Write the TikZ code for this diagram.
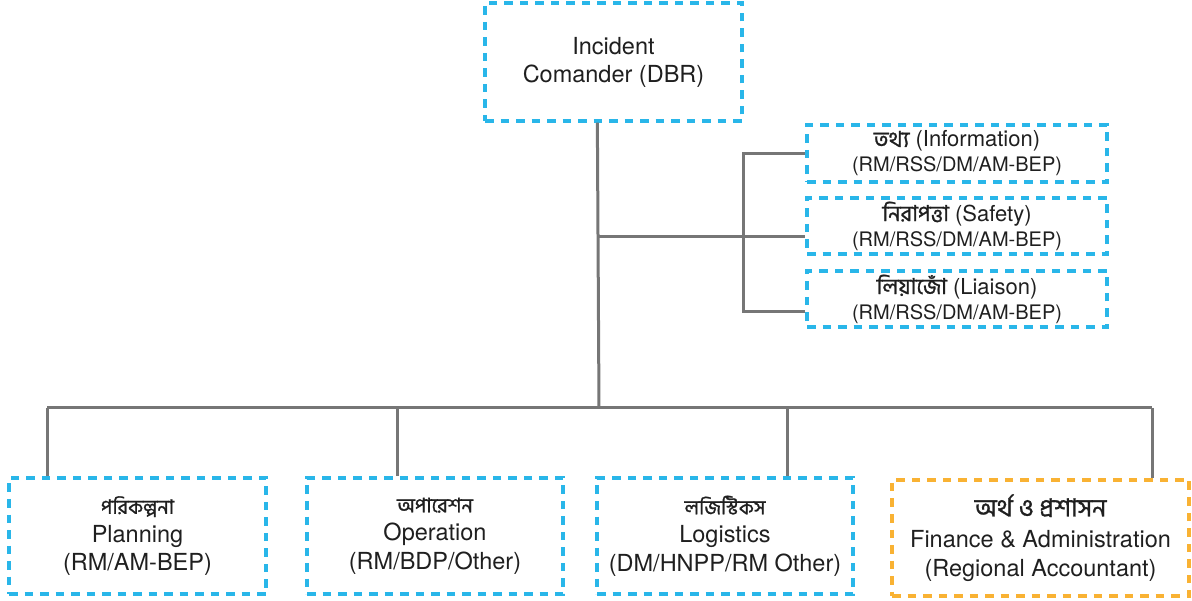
\documentclass[tikz,border=0pt]{standalone}
\usepackage{fontspec}
\usetikzlibrary{calc}
\setmainfont{TeX Gyre Heros}
\newfontfamily\bn[Script=Bengali,FakeBold=1.1]{Hind Siliguri}
\definecolor{boxblue}{HTML}{29B6E9}
\definecolor{boxorange}{HTML}{F9B233}
\definecolor{linkgray}{HTML}{767676}
\tikzset{
  frame/.style={draw=#1, line width=3.3pt, dash pattern=on 8.5pt off 7pt,
    inner sep=0pt, align=center, text=black!88},
  bluebox/.style={frame=boxblue},
  orangebox/.style={frame=boxorange},
  link/.style={draw=linkgray, line width=3pt},
  topfont/.style={font=\fontsize{23.5}{28}\selectfont},
  sidefont/.style={font=\fontsize{22}{25}\selectfont},
  lowfont/.style={font=\fontsize{23.5}{28.5}\selectfont},
}
\newcommand\sub[1]{{\fontsize{20}{25}\selectfont #1}}
\newcommand\bnl[1]{{\bn\fontsize{20}{28.5}\selectfont #1}}
\begin{document}
\begin{tikzpicture}[x=1pt,y=-1pt]
\useasboundingbox (0,0) rectangle (1192,601);

% commander
\node[bluebox, topfont, minimum width=257, minimum height=118] (ic) at (613.5,62)
  {Incident\\Comander (DBR)};

% staff boxes on the right
\node[bluebox, sidefont, minimum width=300, minimum height=57] (info) at (957,153.5)
  {{\bn তথ্য} (Information)\\\sub{(RM/RSS/DM/AM-BEP)}};
\node[bluebox, sidefont, minimum width=300, minimum height=56] (safety) at (957,226)
  {{\bn নিরাপত্তা} (Safety)\\\sub{(RM/RSS/DM/AM-BEP)}};
\node[bluebox, sidefont, minimum width=300, minimum height=56] (liaison) at (957,299)
  {{\bn লিয়াজোঁ} (Liaison)\\\sub{(RM/RSS/DM/AM-BEP)}};

% sections along the bottom
\node[bluebox, lowfont, minimum width=257, minimum height=116] (plan) at (137.5,536)
  {\bnl{পরিকল্পনা}\\Planning\\(RM/AM-BEP)};
\node[bluebox, lowfont, minimum width=256, minimum height=116] (oper) at (435,536)
  {\bnl{অপারেশন}\\Operation\\(RM/BDP/Other)};
\node[bluebox, lowfont, minimum width=256, minimum height=116] (logi) at (725,536)
  {\bnl{লজিস্টিকস}\\Logistics\\(DM/HNPP/RM Other)};
\node[orangebox, lowfont, minimum width=297, minimum height=116] (fin) at (1040.5,538)
  {{\bn\fontsize{25}{28.5}\selectfont অর্থ ও প্রশাসন}\\[3pt]Finance \& Administration\\(Regional Accountant)};

% trunk and bus
\coordinate (trunktop) at ($(ic.south west)+(114,0)$);
\coordinate (trunkbot) at (599,408);
\coordinate (busL) at (47,408);
\coordinate (busR) at (1152,408);
\coordinate (dropO) at (397,408);
\coordinate (dropL) at (787,408);
\coordinate (staff) at (599,237);
\coordinate (bracket) at (743,237);

\draw[link] (trunktop) -- (trunkbot);
\draw[link] (busL) -- (busR);
\draw[link] (busL) -- (busL |- plan.north);
\draw[link] (dropO) -- (dropO |- oper.north);
\draw[link] (dropL) -- (dropL |- logi.north);
\draw[link] (busR) -- (busR |- fin.north);

% staff bracket
\draw[link] (staff) -- ($(safety.west)+(0,11)$);
\draw[link] (info.west) -| (bracket) |- ($(liaison.west)+(0,13)$);
\end{tikzpicture}
\end{document}
